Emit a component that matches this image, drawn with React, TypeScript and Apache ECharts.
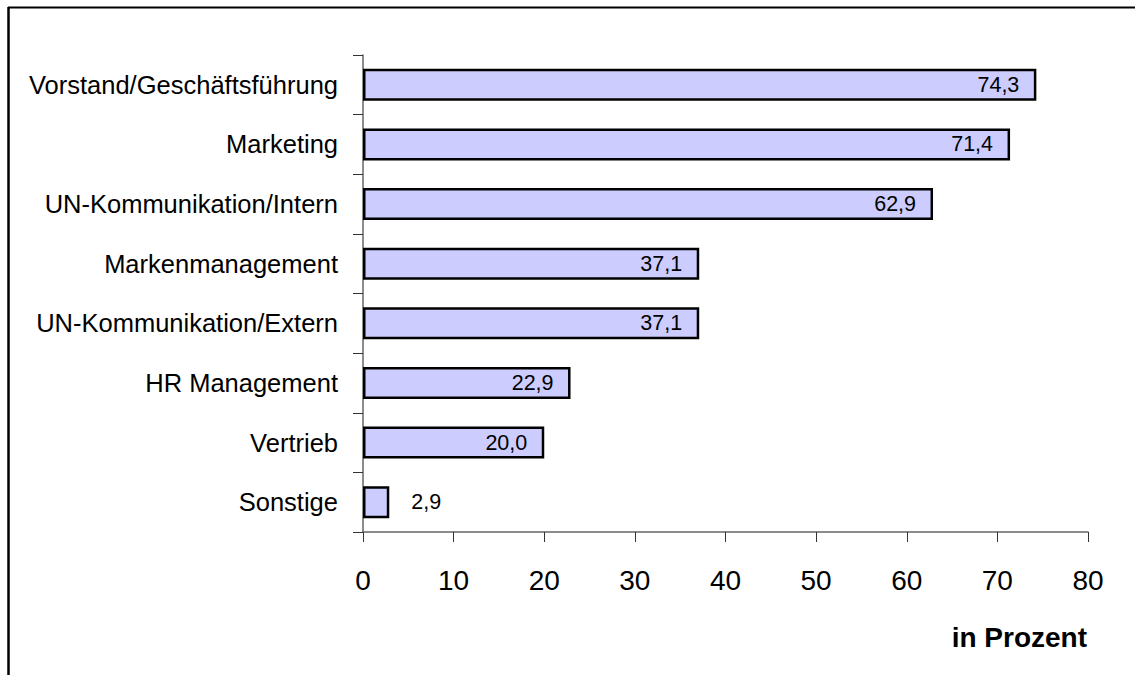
import React, { useEffect, useRef } from "react";
import * as echarts from "echarts";

const categories = [
  "Vorstand/Geschäftsführung",
  "Marketing",
  "UN-Kommunikation/Intern",
  "Markenmanagement",
  "UN-Kommunikation/Extern",
  "HR Management",
  "Vertrieb",
  "Sonstige",
];
const values = [74.3, 71.4, 62.9, 37.1, 37.1, 22.9, 20.0, 2.9];
const xMin = 0;
const xMax = 80;
const xInterval = 10;
const axisTitle = "in Prozent";

const FONT = "'Liberation Sans', Arial, Helvetica, sans-serif";

export default function App() {
  const ref = useRef<HTMLDivElement>(null);

  useEffect(() => {
    document.body.style.margin = "0";
    if (!ref.current) return;
    const chart = echarts.init(ref.current, undefined, { renderer: "svg" });
    chart.setOption({
      animation: false,
      backgroundColor: "#ffffff",
      textStyle: { fontFamily: FONT, color: "#000" },
      grid: { left: 363, right: 47, top: 55, bottom: 143, containLabel: false },
      xAxis: {
        type: "value",
        min: xMin,
        max: xMax,
        interval: xInterval,
        axisLine: { show: true, lineStyle: { color: "#666", width: 1.5 } },
        axisTick: { show: true, length: 10, lineStyle: { color: "#333", width: 1 } },
        splitLine: { show: false },
        axisLabel: { fontSize: 28, color: "#000", margin: 34, fontFamily: FONT },
      },
      yAxis: {
        type: "category",
        data: categories,
        inverse: true,
        axisLine: { show: true, lineStyle: { color: "#666", width: 1.5 } },
        axisTick: { show: true, length: 10, lineStyle: { color: "#333", width: 1 } },
        axisLabel: { fontSize: 25.5, color: "#000", margin: 25, fontFamily: FONT },
      },
      series: [
        {
          type: "bar",
          data: values.map((v) => ({
            value: v,
            label: v < 10 ? { position: "right", distance: 22 } : undefined,
          })),
          barWidth: 32,
          itemStyle: { color: "#ccccff", borderColor: "#000", borderWidth: 2.5 },
          label: {
            show: true,
            position: "insideRight",
            distance: 17,
            fontSize: 21.5,
            color: "#000",
            fontFamily: FONT,
            formatter: (p: any) => Number(p.value).toFixed(1).replace(".", ","),
          },
        },
      ],
      graphic: [
        {
          type: "line",
          shape: { x1: 8, y1: 7.5, x2: 1135, y2: 7.5 },
          style: { stroke: "#000", lineWidth: 2 },
        },
        {
          type: "line",
          shape: { x1: 8.5, y1: 7, x2: 8.5, y2: 675 },
          style: { stroke: "#000", lineWidth: 2.5 },
        },
        {
          type: "text",
          x: 1087,
          y: 637,
          style: {
            text: axisTitle,
            align: "right",
            verticalAlign: "middle",
            fontSize: 28,
            fontWeight: "bold",
            fontFamily: FONT,
            fill: "#000",
          },
        },
      ],
    });
    return () => chart.dispose();
  }, []);

  return <div ref={ref} style={{ width: 1135, height: 675 }} />;
}
